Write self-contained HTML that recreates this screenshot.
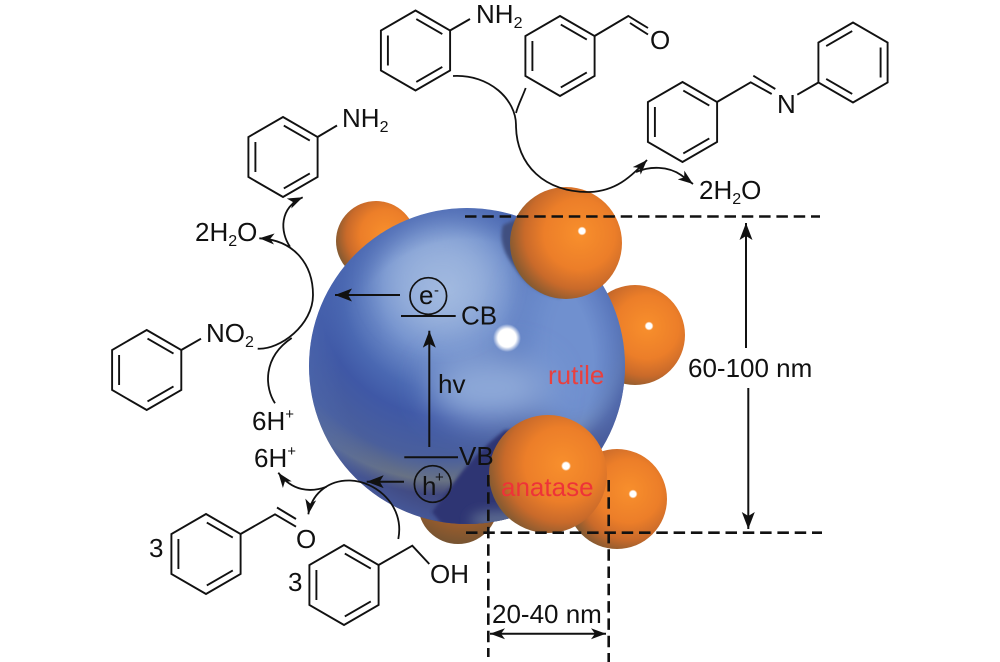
<!DOCTYPE html>
<html><head><meta charset="utf-8"><style>html,body{margin:0;padding:0;background:#fff}svg{display:block}text{font-family:"Liberation Sans",sans-serif;font-size:26px;fill:#111}</style></head><body>
<svg width="1000" height="662" viewBox="0 0 1000 662" xmlns="http://www.w3.org/2000/svg">
<defs>
<radialGradient id="o" cx=".62" cy=".42" r=".7"><stop offset="0" stop-color="#f88f2c"/><stop offset=".45" stop-color="#ec7e29"/><stop offset=".7" stop-color="#c96a2a"/><stop offset=".88" stop-color="#8f5c30"/><stop offset="1" stop-color="#675a3a"/></radialGradient>
<radialGradient id="o2" cx=".55" cy=".2" r=".85"><stop offset="0" stop-color="#c8702a"/><stop offset=".6" stop-color="#a05e2c"/><stop offset="1" stop-color="#6f5232"/></radialGradient>
<radialGradient id="b" gradientUnits="userSpaceOnUse" cx="445" cy="290" r="205"><stop offset="0" stop-color="#a2bae0"/><stop offset=".3" stop-color="#7593ce"/><stop offset=".5" stop-color="#4a68b2"/><stop offset=".62" stop-color="#3f58a6"/><stop offset=".82" stop-color="#4a5f9c"/><stop offset=".93" stop-color="#687284"/><stop offset="1" stop-color="#3f4478"/></radialGradient>
<radialGradient id="edge" gradientUnits="userSpaceOnUse" cx="467" cy="366" r="158"><stop offset="0" stop-color="#4a66b0" stop-opacity="0"/><stop offset=".8" stop-color="#4a66b0" stop-opacity="0"/><stop offset="1" stop-color="#4a66b0" stop-opacity=".55"/></radialGradient>
<radialGradient id="w"><stop offset="0" stop-color="#fff"/><stop offset=".65" stop-color="#fff"/><stop offset="1" stop-color="#fff" stop-opacity="0"/></radialGradient>
<filter id="f1" x="-50%" y="-50%" width="200%" height="200%"><feGaussianBlur stdDeviation="16"/></filter>
<filter id="f2" x="-20%" y="-20%" width="140%" height="140%"><feGaussianBlur stdDeviation="1.5"/></filter>
<filter id="f3" x="-50%" y="-50%" width="200%" height="200%"><feGaussianBlur stdDeviation="6"/></filter>
<clipPath id="c"><circle cx="467" cy="366" r="158"/></clipPath>
<marker id="a" markerUnits="userSpaceOnUse" markerWidth="16" markerHeight="12" refX="15" refY="6" orient="auto"><path d="M15,6 L0,0.5 L4,6 L0,11.5 Z" fill="#111"/></marker>
<marker id="A" markerUnits="userSpaceOnUse" markerWidth="18" markerHeight="14" refX="17" refY="7" orient="auto"><path d="M17,7 L0,0.5 L4,7 L0,13.5 Z" fill="#111"/></marker>
<g id="ring" fill="none" stroke="#111" stroke-width="1.9" stroke-linejoin="miter">
<path d="M0,-40 L34.6,-20 L34.6,20 L0,40 L-34.6,20 L-34.6,-20 Z"/>
<path d="M-27.6,-15 V15 M0.8,-31.4 L26.8,-16.4 M0.8,31.4 L26.8,16.4"/>
</g>
</defs>
<rect width="1000" height="662" fill="#fff"/>

<!-- back spheres -->
<circle cx="376" cy="241" r="40" fill="url(#o)"/>
<circle cx="635" cy="335" r="50" fill="url(#o)"/>
<circle cx="617" cy="499" r="50" fill="url(#o)"/>
<circle cx="458" cy="504" r="40" fill="url(#o2)"/>

<!-- blue sphere -->
<circle cx="467" cy="366" r="158" fill="url(#b)"/>
<g clip-path="url(#c)">
<ellipse cx="575" cy="345" rx="58" ry="95" fill="#6f90cf" filter="url(#f1)"/>
<ellipse cx="490" cy="388" rx="60" ry="34" fill="#8da8d8" filter="url(#f1)"/>
<ellipse cx="440" cy="280" rx="55" ry="50" fill="#a2bae0" filter="url(#f1)" opacity=".55"/>
<circle cx="467" cy="366" r="158" fill="url(#edge)"/>
<path d="M503,225 Q497,245 515,268 Q530,292 560,298 L590,240 L520,218 Z" fill="#3f5080" filter="url(#f2)"/>
<path d="M505,430 Q472,455 450,488 L432,512 L445,528 L525,528 L530,430 Z" fill="#2f3473" filter="url(#f2)"/>
<ellipse cx="500" cy="520" rx="30" ry="9" fill="#5c6a90" filter="url(#f3)"/>
</g>
<circle cx="507" cy="338" r="14" fill="url(#w)"/>

<!-- front spheres -->
<circle cx="566" cy="243" r="56" fill="url(#o)"/>
<circle cx="548" cy="474" r="59" fill="url(#o)"/>
<circle cx="582" cy="231" r="4.5" fill="url(#w)"/>
<circle cx="649" cy="326" r="4.5" fill="url(#w)"/>
<circle cx="566" cy="466" r="5" fill="url(#w)"/>
<circle cx="633" cy="494" r="4.5" fill="url(#w)"/>

<!-- rings -->
<use href="#ring" transform="translate(415.5,50.5)"/>
<use href="#ring" transform="translate(560,56)"/>
<use href="#ring" transform="translate(682.5,122)"/>
<use href="#ring" transform="translate(853,62.5) scale(-1,1)"/>
<use href="#ring" transform="translate(283,157)"/>
<use href="#ring" transform="translate(146.7,370)"/>
<use href="#ring" transform="translate(206,554)"/>
<use href="#ring" transform="translate(344,585)"/>

<!-- bonds -->
<g fill="none" stroke="#111" stroke-width="1.9">
<path d="M450,30.5 L470,19"/>
<path d="M594.6,36 L628.3,16 L648,28 M630,23 L648,34.5"/>
<path d="M717,102 L750.7,82.3 L771.7,94 M753.3,75.7 L775.3,89 M797.3,94.7 L818.4,82.5"/>
<path d="M317.6,137 L337,125.5"/>
<path d="M181.3,350 L201,338.7"/>
<path d="M240.6,534 L275,514.3 L296,526.7 M277,507.5 L296,519"/>
<path d="M378.6,565 L412.3,545.7 L429.3,564"/>
</g>

<!-- curved arrows -->
<g fill="none" stroke="#111" stroke-width="1.8">
<path d="M453,76 C490,74 516,100 516,125 C516,165 545,193 590,192 C615,191 630,178 647,160" marker-end="url(#a)"/>
<path d="M525.7,88 C522,98 518,105 516,113"/>
<path d="M636,172 C650,166 668,166 681,175 L693,184" marker-end="url(#a)"/>
<path d="M257.7,348.7 C280,350 313,325 313,295 C313,265 295,240 259.3,238.3" marker-end="url(#a)"/>
<path d="M290,246.7 C280,232 279,208 302.7,197.3" marker-end="url(#a)"/>
<path d="M275,403.3 C265,388 262,358 291.7,338"/>
<path d="M398.3,539 C405,505 375,481 350,480.5 C330,480 312,492 308.3,514.3" marker-end="url(#a)"/>
<path d="M326.7,486.7 C310,493 292,491 278.3,472.7" marker-end="url(#a)"/>
</g>

<!-- straight arrows and bands -->
<g fill="none" stroke="#111" stroke-width="2">
<path d="M400,295 L335,295" marker-end="url(#A)"/>
<path d="M429.3,447 L429.3,330.7" marker-end="url(#A)"/>
<path d="M404,481.7 L366.7,481.7" marker-end="url(#A)"/>
<path d="M401,316 H455.7 M404.3,457.3 H458"/>
<circle cx="428.3" cy="296" r="18.3" stroke-width="1.7"/>
<circle cx="432.7" cy="484" r="18.3" stroke-width="1.7"/>
<path d="M746,348 L746,223" marker-end="url(#A)"/>
<path d="M748.3,388 L748.3,529" marker-end="url(#A)"/>
<path d="M548,633.7 L490,633.7" marker-end="url(#a)"/>
<path d="M548,633.7 L606,633.7" marker-end="url(#a)"/>
</g>

<!-- dashed guides -->
<g fill="none" stroke="#111" stroke-width="2.6" stroke-dasharray="11.5 5.8">
<path d="M465,216.5 H820"/>
<path d="M466,532.7 H822"/>
<path d="M488.3,475 V657"/>
<path d="M608.7,480 V662"/>
</g>

<!-- labels -->
<text x="476" y="23">NH<tspan dy="5" font-size="16">2</tspan></text>
<text x="650" y="49">O</text>
<text x="777" y="113">N</text>
<text x="699" y="199">2H<tspan dy="5" font-size="16">2</tspan><tspan dy="-5">O</tspan></text>
<text x="342" y="127">NH<tspan dy="5" font-size="16">2</tspan></text>
<text x="195" y="241">2H<tspan dy="5" font-size="16">2</tspan><tspan dy="-5">O</tspan></text>
<text x="206" y="342">NO<tspan dy="5" font-size="16">2</tspan></text>
<text x="252" y="430">6H<tspan dy="-11" font-size="15">+</tspan></text>
<text x="254" y="467">6H<tspan dy="-11" font-size="15">+</tspan></text>
<text x="296" y="548">O</text>
<text x="149" y="557">3</text>
<text x="288" y="591">3</text>
<text x="430" y="583">OH</text>
<text x="419" y="304">e</text><text x="434" y="295" style="font-size:15px">-</text>
<text x="422" y="495">h</text><text x="435" y="482" style="font-size:15px">+</text>
<text x="461" y="324.5">CB</text>
<text x="459" y="465">VB</text>
<text x="438" y="393">hv</text>
<text x="548" y="384" style="fill:#e8403f">rutile</text>
<text x="501" y="496" style="fill:#ee3338">anatase</text>
<text x="688" y="377">60-100 nm</text>
<text x="492" y="623">20-40 nm</text>
</svg>
</body></html>
